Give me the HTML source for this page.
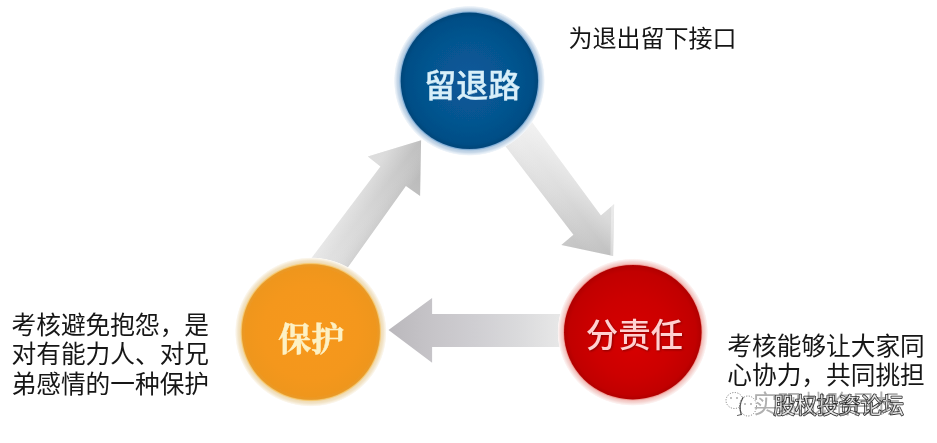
<!DOCTYPE html>
<html lang="zh"><head><meta charset="utf-8"><title>考核三角</title>
<style>
html,body{margin:0;padding:0;background:#fff}
body{width:937px;height:443px;overflow:hidden;position:relative;font-family:"Liberation Sans",sans-serif}
svg{position:absolute;left:0;top:0;display:block}
.t{position:absolute;margin:0;color:transparent;white-space:nowrap;overflow:hidden;font-family:"Liberation Sans",sans-serif;-webkit-user-select:none;user-select:none}
</style></head><body>
<svg width="937" height="443" viewBox="0 0 937 443" role="img" aria-label="考核三角：留退路、分责任、保护">
<defs>
<linearGradient id="g1" gradientUnits="userSpaceOnUse" x1="320" y1="262" x2="421" y2="140">
<stop offset="0" stop-color="#e2e2e2"/>
<stop offset="0.4" stop-color="#d7d7d7"/>
<stop offset="0.75" stop-color="#cacaca"/>
<stop offset="1" stop-color="#bebebe"/>
</linearGradient>
<linearGradient id="g2" gradientUnits="userSpaceOnUse" x1="515" y1="135" x2="613" y2="256">
<stop offset="0" stop-color="#eeeeee"/>
<stop offset="0.45" stop-color="#dddddd"/>
<stop offset="0.8" stop-color="#cbcbcb"/>
<stop offset="1" stop-color="#bfbfbf"/>
</linearGradient>
<linearGradient id="g3" gradientUnits="userSpaceOnUse" x1="562" y1="330" x2="388" y2="330">
<stop offset="0" stop-color="#e8e8e8"/>
<stop offset="0.25" stop-color="#dadadc"/>
<stop offset="0.5" stop-color="#cfced2"/>
<stop offset="0.75" stop-color="#c6c4c8"/>
<stop offset="1" stop-color="#bab8bc"/>
</linearGradient>
<radialGradient id="f_blue" cx="0.5" cy="0.5" r="0.5" fx="0.5" fy="0.5">
<stop offset="0" stop-color="#09599a"/>
<stop offset="0.6" stop-color="#065590"/>
<stop offset="0.93" stop-color="#034e86"/>
<stop offset="1" stop-color="#054578"/>
</radialGradient>
<radialGradient id="r_blue" cx="0.5" cy="0.5" r="0.5">
<stop offset="0.9" stop-color="#5f98ca" stop-opacity="1"/>
<stop offset="0.918" stop-color="#8db5d9" stop-opacity="1"/>
<stop offset="0.93" stop-color="#b8cee3" stop-opacity="1"/>
<stop offset="0.955" stop-color="#c9d9e9" stop-opacity="1"/>
<stop offset="0.972" stop-color="#dfe9f3" stop-opacity="1"/>
<stop offset="0.99" stop-color="#f0f5fa" stop-opacity="1"/>
<stop offset="1" stop-color="#ffffff" stop-opacity="0"/>
</radialGradient>
<radialGradient id="f_orange" cx="0.5" cy="0.5" r="0.5" fx="0.5" fy="0.5">
<stop offset="0" stop-color="#f7981b"/>
<stop offset="0.7" stop-color="#f4971c"/>
<stop offset="0.95" stop-color="#ef961e"/>
<stop offset="1" stop-color="#e89a2a"/>
</radialGradient>
<radialGradient id="r_orange" cx="0.5" cy="0.5" r="0.5">
<stop offset="0.9" stop-color="#f2b040" stop-opacity="1"/>
<stop offset="0.918" stop-color="#f5cb78" stop-opacity="1"/>
<stop offset="0.93" stop-color="#f0dcb6" stop-opacity="1"/>
<stop offset="0.955" stop-color="#f2e4c8" stop-opacity="1"/>
<stop offset="0.972" stop-color="#f7eedc" stop-opacity="1"/>
<stop offset="0.99" stop-color="#fcf8f0" stop-opacity="1"/>
<stop offset="1" stop-color="#ffffff" stop-opacity="0"/>
</radialGradient>
<radialGradient id="f_red" cx="0.5" cy="0.5" r="0.5" fx="0.5" fy="0.6">
<stop offset="0" stop-color="#d70606"/>
<stop offset="0.6" stop-color="#cc0303"/>
<stop offset="0.92" stop-color="#c10202"/>
<stop offset="1" stop-color="#b00404"/>
</radialGradient>
<radialGradient id="r_red" cx="0.5" cy="0.5" r="0.5">
<stop offset="0.9" stop-color="#e8746c" stop-opacity="1"/>
<stop offset="0.918" stop-color="#f0a09a" stop-opacity="1"/>
<stop offset="0.93" stop-color="#f3c4c0" stop-opacity="1"/>
<stop offset="0.955" stop-color="#f5d6d3" stop-opacity="1"/>
<stop offset="0.972" stop-color="#f9e6e4" stop-opacity="1"/>
<stop offset="0.99" stop-color="#fdf4f3" stop-opacity="1"/>
<stop offset="1" stop-color="#ffffff" stop-opacity="0"/>
</radialGradient>
<linearGradient id="c1" gradientUnits="userSpaceOnUse" x1="345" y1="205" x2="377" y2="230">
<stop offset="0" stop-color="#ffffff" stop-opacity="0.35"/>
<stop offset="0.5" stop-color="#ffffff" stop-opacity="0"/>
<stop offset="1" stop-color="#000000" stop-opacity="0.06"/>
</linearGradient>
<linearGradient id="c2" gradientUnits="userSpaceOnUse" x1="540" y1="195" x2="572" y2="171">
<stop offset="0" stop-color="#000000" stop-opacity="0.03"/>
<stop offset="0.5" stop-color="#ffffff" stop-opacity="0"/>
<stop offset="1" stop-color="#ffffff" stop-opacity="0.3"/>
</linearGradient>
<filter id="soft" x="-5%" y="-5%" width="110%" height="110%"><feGaussianBlur stdDeviation="0.5"/></filter>
<filter id="tsoft" x="-5%" y="-20%" width="110%" height="140%"><feGaussianBlur stdDeviation="0.35"/></filter>
<filter id="sh" x="-10%" y="-20%" width="120%" height="150%"><feGaussianBlur stdDeviation="0.8"/></filter>
</defs>
<rect width="937" height="443" fill="#ffffff"/>
<g filter="url(#soft)">
<polygon points="421.1,140.2 367.9,156.5 380.5,166.6 303.3,269 341,277 405.9,186 420.1,196.1" fill="url(#g1)"/>
<polygon points="421.1,140.2 367.9,156.5 380.5,166.6 303.3,269 341,277 405.9,186 420.1,196.1" fill="url(#c1)"/>
<polygon points="497.3,135.7 524,111.2 600.9,215.5 614.1,204.3 613.1,256.1 561.3,244.9 573.4,234.8" fill="url(#g2)"/>
<polygon points="497.3,135.7 524,111.2 600.9,215.5 614.1,204.3 613.1,256.1 561.3,244.9 573.4,234.8" fill="url(#c2)"/>
<polygon points="614.1,204.3 613.1,256.1 610.4,255.5 611.2,206.8" fill="#ffffff" fill-opacity="0.38"/>
<polygon points="388.5,330.1 432.1,298.1 432.1,313.9 575,313.9 575,347 432.1,347 432.1,362.8" fill="url(#g3)"/>
</g>
<g filter="url(#soft)">
<ellipse cx="469.4" cy="80.8" rx="75.7" ry="75.2" fill="url(#r_blue)"/>
<ellipse cx="469.4" cy="80.8" rx="68.7" ry="68.2" fill="url(#f_blue)"/>
<ellipse cx="310.8" cy="332.0" rx="76.0" ry="74.8" fill="url(#r_orange)"/>
<ellipse cx="310.8" cy="332.0" rx="69.0" ry="67.8" fill="url(#f_orange)"/>
<ellipse cx="632.8" cy="332.2" rx="75.39999999999999" ry="73.8" fill="url(#r_red)"/>
<ellipse cx="632.8" cy="332.2" rx="68.8" ry="67.2" fill="url(#f_red)"/>
</g>
<text x="472.3" y="96.5" text-anchor="middle" font-size="32" font-weight="500" font-family="&quot;Liberation Sans&quot;, &quot;Noto Sans CJK SC&quot;, sans-serif" fill="#d8eff9" stroke="#d8eff9" stroke-width="0.35" stroke-linejoin="round" filter="url(#tsoft)">留退路</text>
<text x="311.2" y="350.5" text-anchor="middle" font-size="33" font-weight="bold" font-family="&quot;Liberation Serif&quot;, &quot;Noto Serif CJK SC&quot;, serif" fill="#fdf1c4" stroke="#fdf1c4" stroke-width="0.45" stroke-linejoin="round" filter="url(#tsoft)">保护</text>
<text x="634.5" y="347.3" text-anchor="middle" font-size="32.5" font-weight="500" font-family="&quot;Liberation Sans&quot;, &quot;Noto Sans CJK SC&quot;, sans-serif" fill="#5a0000" fill-opacity="0.6" transform="translate(1,1.2)" filter="url(#sh)">分责任</text>
<text x="634.5" y="347.3" text-anchor="middle" font-size="32.5" font-weight="500" font-family="&quot;Liberation Sans&quot;, &quot;Noto Sans CJK SC&quot;, sans-serif" fill="#ffd0d0" filter="url(#tsoft)">分责任</text>
<text x="568.5" y="46.5" font-size="24" font-family="&quot;Liberation Sans&quot;, &quot;Noto Sans CJK SC&quot;, sans-serif" fill="#151515" filter="url(#tsoft)">为退出留下接口</text>
<text x="11.5" y="334" font-size="24.7" font-family="&quot;Liberation Sans&quot;, &quot;Noto Sans CJK SC&quot;, sans-serif" fill="#151515" filter="url(#tsoft)">考核避免抱怨，是</text>
<text x="11.5" y="363" font-size="24.7" font-family="&quot;Liberation Sans&quot;, &quot;Noto Sans CJK SC&quot;, sans-serif" fill="#151515" filter="url(#tsoft)">对有能力人、对兄</text>
<text x="11.5" y="393" font-size="24.7" font-family="&quot;Liberation Sans&quot;, &quot;Noto Sans CJK SC&quot;, sans-serif" fill="#151515" filter="url(#tsoft)">弟感情的一种保护</text>
<text x="727.3" y="354.8" font-size="24.7" font-family="&quot;Liberation Sans&quot;, &quot;Noto Sans CJK SC&quot;, sans-serif" fill="#151515" filter="url(#tsoft)">考核能够让大家同</text>
<text x="727.3" y="383.8" font-size="24.7" font-family="&quot;Liberation Sans&quot;, &quot;Noto Sans CJK SC&quot;, sans-serif" fill="#151515" filter="url(#tsoft)">心协力，共同挑担</text>
<g>
<ellipse cx="734.5" cy="400.5" rx="8.5" ry="8" fill="#ffffff" fill-opacity="0.9" stroke="#707070" stroke-width="1" stroke-dasharray="1 1.6"/>
<ellipse cx="748" cy="406" rx="8.5" ry="10" fill="#ffffff" fill-opacity="0.92" stroke="#707070" stroke-width="1" stroke-dasharray="1 1.6"/>
<path d="M743 397.5Q738.3 405.5 741.2 414.5" fill="none" stroke="#2a2a2a" stroke-width="1.3" stroke-opacity="0.8" stroke-linecap="round"/>
<path d="M741.2 414.5L737.5 415.5" fill="none" stroke="#2a2a2a" stroke-width="1.1" stroke-opacity="0.7" stroke-linecap="round"/>
<circle cx="731" cy="398" r="0.8" fill="#707070"/>
<circle cx="737" cy="398" r="0.8" fill="#707070"/>
<circle cx="745" cy="404" r="0.8" fill="#707070"/>
<circle cx="751" cy="404" r="0.8" fill="#707070"/>
<text x="773.3" y="412.6" font-size="21.8" font-family="&quot;Liberation Sans&quot;, &quot;Noto Sans CJK SC&quot;, sans-serif" fill="#ffffff" fill-opacity="0.85" stroke="#242424" stroke-width="1.5" stroke-linejoin="round" paint-order="stroke" filter="url(#tsoft)">股权投资论坛</text>
<text x="753" y="413.4" font-size="24.5" font-family="&quot;Liberation Sans&quot;, &quot;Noto Sans CJK SC&quot;, sans-serif" fill="#151515" fill-opacity="0.35" filter="url(#tsoft)">实现战略目标</text>
</g>
</svg>
<div class="t" style="left:422px;top:68px;width:98px;height:38px;font-size:32.8px;line-height:38px">留退路</div>
<div class="t" style="left:278px;top:322px;width:66px;height:39px;font-size:33.2px;line-height:39px">保护</div>
<div class="t" style="left:585px;top:318px;width:99px;height:38px;font-size:33px;line-height:38px">分责任</div>
<p class="t" style="left:568px;top:25px;width:172px;height:30px;font-size:24.3px;line-height:30px;white-space:normal">为退出留下接口</p>
<p class="t" style="left:11px;top:313px;width:200px;height:87.9px;font-size:24.7px;line-height:29.3px;white-space:normal">考核避免抱怨，是<br>对有能力人、对兄<br>弟感情的一种保护</p>
<p class="t" style="left:727px;top:333px;width:200px;height:87.9px;font-size:24.7px;line-height:29.3px;white-space:normal">考核能够让大家同<br>心协力，共同挑担<br>实现战略目标</p>
<div class="t" style="left:773px;top:394px;width:132px;height:26px;font-size:22px;line-height:26px">股权投资论坛</div>
</body></html>
